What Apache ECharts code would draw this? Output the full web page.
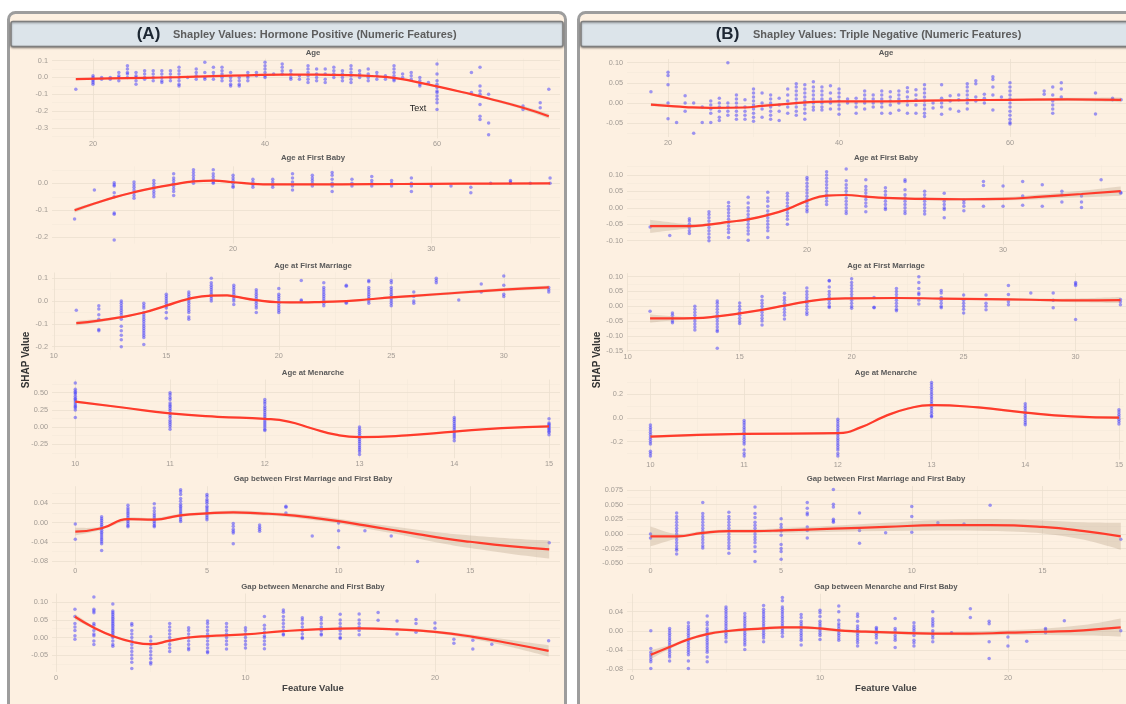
<!DOCTYPE html>
<html><head><meta charset="utf-8">
<script src="https://cdn.jsdelivr.net/npm/echarts@6/dist/echarts.min.js"></script>
<style>html,body{margin:0;padding:0;background:#fff}#c{width:1126px;height:704px}</style>
</head><body><div id="c"></div>
<script>
// ---------------- DATA ----------------
const facetTitles = ['Age','Age at First Baby','Age at First Marriage','Age at Menarche','Gap between First Marriage and First Baby','Gap between Menarche and First Baby'];
const headerA = 'Shapley Values: Hormone Positive (Numeric Features)';
const headerB = 'Shapley Values: Triple Negative (Numeric Features)';

// (A) Hormone Positive
const hpAgeCols = [18,20,21,22,23,24,25,26,27,28,29,30,31,32,33,34,35,36,37,38,39,40,41,42,43,44,45,46,47,48,49,50,51,52,53,54,55,56,57,58,59,60,64,65,66,70,72,73];
const hpAgeVals = [[-0.07],[0.01,0,-0.01,-0.02,-0.03,-0.04],[0,-0.01],[0,-0.01],[0.03,0.01,0,-0.02],[0.07,0.05,0.03,0.02,0],[0.03,0.01,0,-0.02,-0.04],[0.04,0.02,0,-0.01],[0.04,0.02,0,-0.02],[0.04,0.02,0,-0.02,-0.03],[0.04,0.02,0,-0.02],[0.06,0.04,0.02,0,-0.02,-0.04,-0.05],[0],[0.05,0.03,0.01,-0.01],[0.09,0.03,0,-0.01],[0.06,0.03,0.01,-0.01],[0.06,0.04,0.02,0,-0.02],[0.03,0,-0.02,-0.04,-0.05],[0,-0.02,-0.04,-0.05],[0.03,0.01,0,-0.02],[0.03,0.01],[0.09,0.07,0.05,0.03,0.01,0],[0.02],[0.08,0.06,0.04,0.02],[0.04,0.02,0,-0.01],[0.01,-0.01],[0.07,0.05,0.03,0.01,-0.01,-0.03],[0.05,0.02,0,-0.02],[0.05,0.02,-0.01,-0.03],[0.06,0.04,0.02,0],[0.04,0.02,0,-0.02],[0.07,0.05,0.03,0.01,-0.01,-0.03],[0.04,0.02,0],[0.05,0.02,0,-0.02],[0.03,0.01,-0.01],[0.01,-0.01],[0.07,0.05,0.03,0.01,-0.01,-0.02],[0.02,0],[0.03,0.01,-0.01],[0,-0.02,-0.04,-0.05],[-0.03],[0.08,0.02,-0.02,-0.04,-0.06,-0.08,-0.09,-0.11,-0.13,-0.15,-0.19],[0.03,-0.09],[0.06,-0.05,-0.08,-0.1,-0.16,-0.23,-0.25],[-0.1,-0.27,-0.34],[-0.17,-0.19],[-0.15,-0.18],[-0.07]];
const hpAgeCurveX = [18,22,26,30,34,38,42,46,50,53,55,57,60,63,66,70,73];
const hpAgeCurveY = [-0.01,-0.006,-0.002,0.002,0.008,0.013,0.017,0.017,0.014,0.007,-0.002,-0.02,-0.053,-0.088,-0.125,-0.18,-0.23];
const hpAgeSE = [0.006,0.003,0.003,0.002,0.002,0.002,0.002,0.002,0.002,0.002,0.003,0.003,0.004,0.006,0.008,0.011,0.015];
const hpAgeXTicks = [20,40,60];
const hpAgeYTicks = [0.1,0,-0.1,-0.2,-0.3];

const hpBabyCols = [12,13,14,15,16,17,18,19,20,21,22,23,24,25,26,27,28,29,30,31,32,33,34,35,36];
const hpBabyVals = [[-0.132],[-0.025],[0.002,-0.005,-0.01,-0.035,-0.05,-0.11,-0.115,-0.21],[0.005,-0.005,-0.015,-0.025,-0.035,-0.045,-0.055],[0.01,0,-0.01,-0.02,-0.03,-0.04,-0.05],[0.035,0.02,0.01,0,-0.01,-0.02,-0.03,-0.045],[0.05,0.04,0.03,0.02,0.01,0],[0.05,0.035,0.025,0.015,0.005,0],[0.03,0.02,0.01,0,-0.01,-0.015],[0.015,0.005,-0.005,-0.015],[0.015,0.005,-0.005,-0.015],[0.035,0.02,0.005,-0.01,-0.025],[0.03,0.02,0.01,0,-0.01],[0.04,0.03,0.015,0,-0.01,-0.03],[0.015,0,-0.01],[0.025,0.01,0,-0.01],[0.01,0,-0.01],[0.02,0,-0.01,-0.03],[-0.01],[-0.01],[-0.015,-0.035],[0],[0.01,0.005,0],[0],[0.02,0]];
const hpBabyCurveX = [12,13,14,15,16,17,18,19,20,21,22,24,27,30,33,36];
const hpBabyCurveY = [-0.1,-0.075,-0.052,-0.033,-0.017,-0.004,0.007,0.01,0.004,-0.002,-0.004,-0.004,-0.003,-0.002,-0.001,0.0];
const hpBabySE = [0.008,0.005,0.004,0.003,0.003,0.003,0.003,0.003,0.003,0.003,0.003,0.003,0.003,0.003,0.003,0.004];
const hpBabyXTicks = [20,30];
const hpBabyYTicks = [0,-0.1,-0.2];

const hpMarrCols = [11,12,13,14,15,16,17,18,19,20,21,22,23,24,25,26,27,28,29,30,32];
const hpMarrVals = [[-0.04],[-0.02,-0.035,-0.06,-0.08,-0.125,-0.13],[0,-0.01,-0.02,-0.03,-0.04,-0.05,-0.06,-0.08,-0.11,-0.13,-0.15,-0.17,-0.2],[-0.01,-0.02,-0.03,-0.05,-0.06,-0.07,-0.08,-0.09,-0.1,-0.11,-0.12,-0.13,-0.14,-0.15,-0.16,-0.19],[0.03,0.02,0.01,0,-0.01,-0.02,-0.03,-0.05,-0.075],[0.04,0.03,0.02,0.01,0,-0.01,-0.02,-0.03,-0.04,-0.05,-0.07,-0.08],[0.1,0.08,0.07,0.06,0.05,0.04,0.03,0.02,0.01,0],[0.07,0.06,0.05,0.04,0.03,0.02,0.01,0,-0.015],[0.05,0.04,0.03,0.02,0.01,0,-0.01,-0.02,-0.03,-0.05],[0.055,0.03,0.02,0.01,0,-0.01,-0.02,-0.03,-0.04,-0.05],[0.09,0.005,0],[0.08,0.06,0.05,0.04,0.03,0.02,0.01,0,-0.01,-0.02],[0.07,0.065,-0.005,-0.01],[0.09,0.085,0.06,0.05,0.04,0.03,0.02,0.01,0,-0.01],[0.09,0.08,0.06,0.05,0.04,0.03,0.02,0.01,0,-0.01,-0.02],[0.04,0.02,0,-0.01],[0.1,0.09,0.08],[0.005],[0.075,0.04],[0.11,0.07,0.03,0.02],[0.06,0.05,0.04]];
const hpMarrCurveX = [11,12,13,14,15,16,17,17.7,18,19,20,21,22,23,24,25,27,30,32];
const hpMarrCurveY = [-0.097,-0.086,-0.07,-0.05,-0.02,0.01,0.024,0.025,0.021,0.004,-0.005,-0.006,-0.003,0.0,0.008,0.016,0.03,0.05,0.06];
const hpMarrSE = [0.01,0.007,0.005,0.004,0.004,0.004,0.004,0.004,0.004,0.004,0.004,0.004,0.004,0.004,0.004,0.005,0.006,0.007,0.008];
const hpMarrXTicks = [10,15,20,25,30];
const hpMarrYTicks = [0.1,0,-0.1,-0.2];

const hpMenCols = [10,11,12,13,14,15];
const hpMenVals = [[0.64,0.55,0.52,0.5,0.48,0.45,0.42,0.4,0.38,0.35,0.32,0.3,0.28,0.25,0.14],[0.5,0.47,0.43,0.4,0.35,0.32,0.3,0.27,0.24,0.2,0.17,0.14,0.1,0.07,0.04,0.01,-0.03],[0.4,0.37,0.34,0.3,0.27,0.24,0.21,0.18,0.15,0.12,0.09,0.06,0.03,0,-0.03,-0.05],[0,-0.03,-0.06,-0.09,-0.12,-0.15,-0.18,-0.21,-0.24,-0.27,-0.3,-0.33,-0.36,-0.4],[0.14,0.11,0.08,0.05,0.02,-0.01,-0.04,-0.07,-0.1,-0.13,-0.16,-0.2],[0.12,0.06,0.04,0.02,0,-0.02,-0.04,-0.06,-0.08,-0.11]];
const hpMenCurveX = [10,10.5,11,11.5,12,12.25,12.5,12.75,13,13.5,14,14.5,15];
const hpMenCurveY = [0.37,0.285,0.2,0.15,0.12,0.08,-0.02,-0.11,-0.145,-0.12,-0.065,-0.015,0.01];
const hpMenSE = [0.015,0.01,0.01,0.01,0.01,0.01,0.01,0.01,0.01,0.01,0.01,0.01,0.015];
const hpMenXTicks = [10,11,12,13,14,15];
const hpMenYTicks = [0.5,0.25,0,-0.25];

const hpGapMCols = [0,1,2,3,4,5,6,7,8,9,10,11,12,13,18];
const hpGapMVals = [[-0.003,-0.035],[0.012,0.008,0.004,0,-0.004,-0.008,-0.012,-0.016,-0.02,-0.024,-0.028,-0.032,-0.036,-0.04,-0.044,-0.058],[0.036,0.03,0.026,0.022,0.018,0.014,0.01,0.006,0.002,-0.002,-0.006,-0.009],[0.039,0.03,0.024,0.018,0.014,0.01,0.006,0.002,-0.002,-0.006,-0.009],[0.068,0.064,0.058,0.05,0.044,0.038,0.034,0.03,0.026,0.022,0.018,0.014,0.01,0.006,0.002],[0.058,0.054,0.048,0.044,0.04,0.034,0.03,0.026,0.022,0.018,0.014,0.01,0.006],[-0.002,-0.008,-0.014,-0.018,-0.022,-0.044],[-0.005,-0.01,-0.014,-0.018],[0.034,0.032,0.02],[-0.028],[-0.001,-0.017,-0.052],[-0.017],[-0.028],[-0.081],[-0.042]];
const hpGapMCurveX = [0,1,2,3,4,5,6,7,8,9,10,11,12,13,14,15,16.5,18];
const hpGapMCurveY = [-0.019,-0.012,0.007,0.006,0.015,0.019,0.021,0.019,0.016,0.01,0.003,-0.006,-0.015,-0.024,-0.033,-0.04,-0.049,-0.056];
const hpGapMSE = [0.008,0.003,0.003,0.003,0.003,0.003,0.004,0.004,0.004,0.005,0.005,0.006,0.007,0.009,0.011,0.013,0.016,0.019];
const hpGapMXTicks = [0,5,10,15];
const hpGapMYTicks = [0.04,0,-0.04,-0.08];

const hpGapBCols = [1,2,3,4,5,6,7,8,9,10,11,12,13,14,15,16,17,18,19,20,21,22,23,26];
const hpGapBVals = [[0.08,0.06,0.04,0.03,0.02,0.005,-0.005],[0.115,0.08,0.075,0.07,0.04,0.035,0.02,0.01,0.005,-0.01,-0.02],[0.095,0.075,0.07,0.065,0.06,0.055,0.05,0.045,0.04,0.035,0.03,0.025,0.02,0.015,0.01,0.005,0,-0.01,-0.02,-0.025],[0.04,0.035,0.02,0.01,0,-0.01,-0.02,-0.03,-0.04,-0.05,-0.06,-0.07,-0.088],[0.002,-0.01,-0.02,-0.03,-0.04,-0.05,-0.06,-0.07,-0.075],[0.04,0.03,0.02,0.01,0,-0.01,-0.02,-0.03,-0.04],[0.028,0.02,0.01,0,-0.01,-0.02,-0.03,-0.035],[0.047,0.04,0.03,0.02,0.01,0,-0.01,-0.02,-0.03,-0.04,-0.043],[0.04,0.03,0.02,0.01,0,-0.01,-0.02,-0.033],[0.028,0.02,0.01,0,-0.01,-0.02,-0.03],[0.06,0.035,0.025,0.015,0.005,0,-0.01,-0.02,-0.032],[0.078,0.072,0.06,0.05,0.04,0.03,0.02,0.01,0.007],[0.056,0.05,0.04,0.03,0.02,0.01,0,-0.003],[0.057,0.05,0.04,0.03,0.02,0.01,0.007],[0.066,0.05,0.04,0.03,0.02,0.01,0,-0.003],[0.067,0.05,0.04,0.03,0.02,0.008],[0.071,0.049],[0.047,0.01],[0.051,0.04,0.015],[0.041,0.026],[-0.005,-0.016],[-0.008,-0.033],[-0.019],[-0.009]];
const hpGapBCurveX = [1,2,3,4,5,6,7,8,10,12,14,16,18,20,22,24,26];
const hpGapBCurveY = [0.059,0.028,0.004,-0.012,-0.019,-0.009,0.0,0.004,0.009,0.018,0.024,0.026,0.023,0.016,0.002,-0.017,-0.038];
const hpGapBSE = [0.008,0.004,0.003,0.003,0.003,0.003,0.003,0.002,0.002,0.002,0.002,0.003,0.003,0.004,0.006,0.01,0.016];
const hpGapBXTicks = [0,10,20];
const hpGapBYTicks = [0.1,0.05,0,-0.05];

// (B) Triple Negative
const tnAgeCols = [18,20,21,22,23,24,25,26,27,28,29,30,31,32,33,34,35,36,37,38,39,40,41,42,43,44,45,46,47,48,49,50,51,52,53,54,55,56,57,58,59,60,64,65,66,70,72,73];
const tnAgeVals = [[0.028],[0.076,0.068,0.045,0,-0.039],[-0.048],[0.018,0,-0.02],[0,-0.075],[-0.01,-0.048],[0.005,-0.005,-0.015,-0.025,-0.048],[0.012,0,-0.01,-0.02,-0.035,-0.043],[0.1,0,-0.01,-0.02,-0.03],[0.02,0.01,0,-0.01,-0.02,-0.03,-0.04],[0.008,-0.01,-0.02,-0.03,-0.04],[0.035,0.025,0.015,0.005,-0.005,-0.015,-0.025,-0.035,-0.045],[0.025,0,-0.015,-0.035],[0.02,0.01,0,-0.01,-0.02,-0.03,-0.04],[0.012,-0.005,-0.02,-0.043],[0.035,0.02,0.005,-0.01,-0.025],[0.048,0.04,0.03,0.02,0.01,0,-0.01,-0.02,-0.03],[0.045,0.035,0.025,0.015,0.005,-0.005,-0.015,-0.025,-0.04],[0.053,0.04,0.03,0.02,0.01,0,-0.01,-0.017],[0.04,0.03,0.02,0.01,0,-0.01,-0.017],[0.043,0.025,0.01,0,-0.015],[0.035,0.025,0.015,0.005,-0.005,-0.015,-0.028],[0.01,0],[0.012,0,-0.01,-0.025],[0.03,0.02,0.01,0,-0.015],[0.02,0.01,0,-0.01],[0.03,0.02,0.01,0,-0.01,-0.025],[0.028,0.015,0.005,-0.005,-0.025],[0.03,0.02,0.01,0,-0.018],[0.038,0.028,0.015,0.005,-0.005,-0.025],[0.033,0.02,0.008,-0.005,-0.025],[0.045,0.035,0.025,0.015,0.005,-0.005,-0.015,-0.025,-0.033],[0,-0.012],[0.045,0.012,0,-0.01,-0.028],[0.018,0.005,-0.015],[0.02,0.008,-0.02],[0.048,0.04,0.03,0.02,0.01,0,-0.015],[0.055,0.048,0.015,0.005],[0.022,0.012,0],[0.065,0.058,0.04,0.02,-0.017],[0.015],[0.05,0.04,0.03,0.02,0.01,0,-0.01,-0.02,-0.03,-0.04,-0.048,-0.052],[0.03,0.022],[0.04,0.02,0.005,-0.005,-0.015,-0.025],[0.05,0.035,0.015],[0.025,-0.027],[0.012,0.008],[0.008]];
const tnAgeCurveX = [18,20,22,25,29,31,34,37,40,45,50,55,60,66.7,73];
const tnAgeCurveY = [-0.004,-0.007,-0.01,-0.012,-0.011,-0.007,-0.002,0.003,0.004,0.004,0.006,0.007,0.008,0.009,0.008];
const tnAgeSE = [0.004,0.003,0.002,0.002,0.002,0.002,0.002,0.002,0.002,0.002,0.002,0.002,0.002,0.004,0.006];
const tnAgeXTicks = [20,40,60];
const tnAgeYTicks = [0.1,0.05,0,-0.05];

const tnBabyCols = [12,13,14,15,16,17,18,19,20,21,22,23,24,25,26,27,28,29,30,31,32,33,34,35,36];
const tnBabyVals = [[-0.058],[-0.084],[-0.033,-0.04,-0.05,-0.06,-0.07,-0.078],[-0.012,-0.02,-0.03,-0.04,-0.05,-0.06,-0.07,-0.08,-0.09,-0.1],[0.016,0.005,-0.005,-0.015,-0.025,-0.035,-0.045,-0.055,-0.065,-0.075,-0.09],[0.032,0.015,0,-0.01,-0.02,-0.03,-0.04,-0.05,-0.06,-0.07,-0.08,-0.099],[0.047,0.03,0.02,0.005,-0.01,-0.02,-0.03,-0.04,-0.05,-0.06,-0.07,-0.09],[0.044,0.035,0.025,0.015,0.005,-0.005,-0.015,-0.025,-0.035,-0.05],[0.092,0.085,0.075,0.065,0.055,0.045,0.035,0.025,0.015,0.005,-0.005,-0.012],[0.11,0.1,0.09,0.08,0.07,0.06,0.05,0.04,0.03,0.02,0.01],[0.118,0.082,0.07,0.06,0.05,0.04,0.03,0.02,0.01,0,-0.01,-0.017],[0.085,0.065,0.055,0.045,0.035,0.025,0.015,0.005,-0.012],[0.061,0.05,0.04,0.03,0.02,0.01,0,-0.005],[0.085,0.08,0.055,0.04,0.03,0.02,0.01,0,-0.01,-0.017],[0.05,0.04,0.03,0.02,0.01,0,-0.01,-0.019],[0.044,0.02,0.01,0,-0.005,-0.03],[0.023,0.015,0.005,-0.009],[0.08,0.068,0.005],[0.066,0.005],[0.08,0.036,0.008],[0.07,0.005],[0.05,0.04,0.018],[0.036,0.018,0.001],[0.085],[0.047,0.044]];
const tnBabyCurveX = [12,14,15,16,17,18,19,20,21,22,23,24,26,28,30,32,34,36];
const tnBabyCurveY = [-0.056,-0.056,-0.051,-0.043,-0.035,-0.022,-0.004,0.021,0.037,0.039,0.034,0.03,0.027,0.026,0.027,0.034,0.042,0.051];
const tnBabySE = [0.02,0.006,0.004,0.003,0.003,0.003,0.003,0.003,0.003,0.003,0.003,0.003,0.004,0.004,0.005,0.007,0.01,0.014];
const tnBabyXTicks = [20,30];
const tnBabyYTicks = [0.1,0.05,0,-0.05,-0.1];

const tnMarrCols = [11,12,13,14,15,16,17,18,19,20,21,22,23,24,25,26,27,28,29,30,32];
const tnMarrVals = [[-0.017],[-0.023,-0.03,-0.04,-0.05,-0.056],[0,-0.01,-0.02,-0.03,-0.04,-0.05,-0.06,-0.07,-0.08],[0.018,0.01,0,-0.01,-0.02,-0.03,-0.04,-0.05,-0.06,-0.07,-0.08,-0.085,-0.142],[0.011,0,-0.01,-0.02,-0.03,-0.04,-0.05,-0.058],[0.033,0.02,0.01,0,-0.01,-0.02,-0.03,-0.04,-0.05,-0.063],[0.044,0.03,0.02,0.01,0,-0.01,-0.02,-0.03,-0.043],[0.062,0.05,0.04,0.03,0.02,0.01,0,-0.01,-0.02,-0.028],[0.087,0.085,0.065,0.05,0.04,0.03,0.02,0.01,0,-0.004],[0.093,0.08,0.07,0.06,0.05,0.04,0.03,0.02,0.01,0,-0.007],[0.03,-0.003,-0.005],[0.06,0.05,0.04,0.03,0.02,0.01,0,-0.01,-0.015],[0.1,0.08,0.06,0.045,0.04,0.02,0.008],[0.053,0.045,0.03,0.02,0.01,0,-0.005],[0.038,0.02,0.01,0,-0.01,-0.023],[0.038,0.01,0,-0.012],[0.07,0.04,0.015,0.005],[0.045],[0.045,0.02,-0.005],[0.08,0.075,0.07,-0.045],[0.023,0.015,0.005]];
const tnMarrCurveX = [11,12,13,14,15,16,17,18,19,20,22,24,26,28,30,32];
const tnMarrCurveY = [-0.041,-0.041,-0.04,-0.034,-0.024,-0.012,0.002,0.016,0.025,0.027,0.028,0.026,0.024,0.022,0.02,0.021];
const tnMarrSE = [0.014,0.007,0.004,0.003,0.003,0.003,0.003,0.003,0.003,0.003,0.003,0.003,0.004,0.004,0.006,0.01];
const tnMarrXTicks = [10,15,20,25,30];
const tnMarrYTicks = [0.1,0.05,0,-0.05,-0.1,-0.15];

const tnMenCols = [10,11,12,13,14,15];
const tnMenVals = [[-0.06,-0.08,-0.1,-0.12,-0.14,-0.16,-0.18,-0.2,-0.22,-0.28,-0.3,-0.32],[-0.02,-0.04,-0.06,-0.08,-0.1,-0.12,-0.14,-0.16,-0.18,-0.2,-0.22,-0.27,-0.3,-0.32],[-0.01,-0.03,-0.05,-0.07,-0.09,-0.11,-0.13,-0.15,-0.17,-0.19,-0.21,-0.23,-0.25,-0.27,-0.3,-0.32],[0.3,0.28,0.26,0.24,0.22,0.2,0.18,0.16,0.14,0.12,0.1,0.08,0.06,0.04,0.02,0.01],[0.12,0.1,0.08,0.06,0.04,0.02,0,-0.02,-0.04,-0.057],[0.07,0.05,0.03,0.01,-0.01,-0.03,-0.05]];
const tnMenCurveX = [10,11,12,12.25,12.5,12.75,13,13.5,14,14.5,15];
const tnMenCurveY = [-0.157,-0.134,-0.128,-0.077,0.014,0.08,0.109,0.089,0.046,0.014,0.003];
const tnMenSE = [0.012,0.008,0.008,0.008,0.008,0.008,0.008,0.008,0.008,0.008,0.012];
const tnMenXTicks = [10,11,12,13,14,15];
const tnMenYTicks = [0.2,0,-0.2];

const tnGapMCols = [0,1,2,3,4,5,6,7,8,9,10,11,12,13,18];
const tnGapMVals = [[0,-0.007],[0.036,0.03,0.025,0.02,0.015,0.01,0.005,0,-0.005,-0.01,-0.015,-0.02,-0.025,-0.028,-0.034],[0.054,0.035,0.03,0.025,0.02,0.015,0.01,0.005,0,-0.005,-0.01,-0.015,-0.02,-0.024],[0.037,0.03,0.025,0.02,0.015,0.01,0.005,0,-0.005,-0.01,-0.015,-0.02,-0.025,-0.033],[0.046,0.035,0.028,0.02,0.015,0.01,0.005,0,-0.005,-0.01,-0.015,-0.022,-0.03,-0.047],[0.026,0.016,0.011,0.005,-0.002,-0.018,-0.025,-0.03,-0.043],[0.054,0.044,0.036,0.033,0.012,0.006,-0.007],[0.076,0.051,0.046,0.025,0.022,0.02],[0.036,0.006,-0.016],[0.002],[0.047,0.03,0.003],[0.019],[0.017],[0.049],[-0.009]];
const tnGapMCurveX = [0,1,2,3,4,5,7,9,11,13,15,16.6,18];
const tnGapMCurveY = [-0.004,-0.004,0.002,0.005,0.005,0.006,0.009,0.012,0.015,0.015,0.012,0.005,-0.004];
const tnGapMSE = [0.017,0.004,0.003,0.003,0.003,0.004,0.005,0.007,0.009,0.01,0.011,0.015,0.023];
const tnGapMXTicks = [0,5,10,15];
const tnGapMYTicks = [0.075,0.05,0.025,0,-0.025,-0.05];

const tnGapBCols = [1,2,3,4,5,6,7,8,9,10,11,12,13,14,15,16,17,18,19,20,21,22,23,26];
const tnGapBVals = [[0,-0.037,-0.045,-0.05,-0.055,-0.06,-0.065,-0.079],[0.005,0,-0.005,-0.01,-0.015,-0.02,-0.025,-0.03,-0.035,-0.04,-0.045,-0.05,-0.055,-0.063],[0.017,0.01,0.005,0,-0.005,-0.01,-0.015,-0.02,-0.025,-0.03,-0.035,-0.04,-0.045,-0.05,-0.063,-0.079],[0.031,0.018,0.012,0.005,0,-0.005,-0.01,-0.015,-0.02,-0.025,-0.03,-0.035,-0.04,-0.045,-0.055,-0.065],[0.05,0.045,0.04,0.035,0.03,0.025,0.02,0.015,0.01,0.005,0,-0.005,-0.01,-0.015,-0.023],[0.036,0.03,0.025,0.02,0.015,0.01,0.005,0,-0.005,-0.01,-0.015,-0.02,-0.025,-0.03,-0.039],[0.053,0.045,0.04,0.035,0.03,0.025,0.02,0.015,0.01,0.005,0,-0.005,-0.01,-0.015,-0.023],[0.07,0.063,0.05,0.045,0.04,0.035,0.03,0.025,0.02,0.015,0.01,0.005,0,-0.005,-0.012],[0.034,0.028,0.02,0.015,0.01,0.005,0,-0.005,-0.01,-0.015,-0.02,-0.03],[0.043,0.038,0.03,0.02,0.015,0.01,0.005,0,-0.005,-0.01,-0.018],[0.052,0.04,0.022,0.015,0.01,0.005,0,-0.005,-0.01,-0.015,-0.02],[0.035,0.03,0.02,0.01,0.005,0,-0.005,-0.01,-0.015,-0.02,-0.025,-0.032],[0.007,0.004,0,-0.005,-0.01,-0.015,-0.025],[0.026,0.005,0,-0.01,-0.015,-0.02,-0.035],[0.017,0.01,0.005,0,-0.01,-0.02,-0.025,-0.032],[0.04,0.025,0.02,0.015,0.01,0,-0.005,-0.01,-0.015,-0.023],[-0.004],[0.046,0.028],[0.02,0.015,-0.023,-0.058],[-0.013,-0.032],[-0.022],[0.005,0.002,-0.004],[0.021],[0]];
const tnGapBCurveX = [1,2,3,4,5,7,8,9,10,11,12,14,16,18,20,22,24,26];
const tnGapBCurveY = [-0.05,-0.034,-0.018,-0.007,-0.001,0.005,0.007,0.007,0.005,0.001,-0.001,-0.004,-0.006,-0.006,-0.004,-0.002,0.001,0.007];
const tnGapBSE = [0.009,0.004,0.003,0.003,0.003,0.003,0.003,0.003,0.003,0.003,0.003,0.003,0.003,0.004,0.005,0.007,0.011,0.019];
const tnGapBXTicks = [0,10,20];
const tnGapBYTicks = [0.04,0,-0.04,-0.08];

// ---------------- ASSEMBLY ----------------
const panels = [
  [hpAgeCols,hpAgeVals,hpAgeCurveX,hpAgeCurveY,hpAgeSE,hpAgeXTicks,hpAgeYTicks],
  [hpBabyCols,hpBabyVals,hpBabyCurveX,hpBabyCurveY,hpBabySE,hpBabyXTicks,hpBabyYTicks],
  [hpMarrCols,hpMarrVals,hpMarrCurveX,hpMarrCurveY,hpMarrSE,hpMarrXTicks,hpMarrYTicks],
  [hpMenCols,hpMenVals,hpMenCurveX,hpMenCurveY,hpMenSE,hpMenXTicks,hpMenYTicks],
  [hpGapMCols,hpGapMVals,hpGapMCurveX,hpGapMCurveY,hpGapMSE,hpGapMXTicks,hpGapMYTicks],
  [hpGapBCols,hpGapBVals,hpGapBCurveX,hpGapBCurveY,hpGapBSE,hpGapBXTicks,hpGapBYTicks],
  [tnAgeCols,tnAgeVals,tnAgeCurveX,tnAgeCurveY,tnAgeSE,tnAgeXTicks,tnAgeYTicks],
  [tnBabyCols,tnBabyVals,tnBabyCurveX,tnBabyCurveY,tnBabySE,tnBabyXTicks,tnBabyYTicks],
  [tnMarrCols,tnMarrVals,tnMarrCurveX,tnMarrCurveY,tnMarrSE,tnMarrXTicks,tnMarrYTicks],
  [tnMenCols,tnMenVals,tnMenCurveX,tnMenCurveY,tnMenSE,tnMenXTicks,tnMenYTicks],
  [tnGapMCols,tnGapMVals,tnGapMCurveX,tnGapMCurveY,tnGapMSE,tnGapMXTicks,tnGapMYTicks],
  [tnGapBCols,tnGapBVals,tnGapBCurveX,tnGapBCurveY,tnGapBSE,tnGapBXTicks,tnGapBYTicks]
];
// layout: grid box in px + axis ranges + y label decimals
const layout = [
  {l:52,w:508,t:58.7,h:79.6,x0:15.23,x1:74.3,y0:-0.3615,y1:0.1115,d:1},
  {l:52,w:508,t:166.3,h:77.2,x0:10.86,x1:36.5,y0:-0.223,y1:0.063,d:1},
  {l:52,w:508,t:272.5,h:77.7,x0:9.92,x1:32.5,y0:-0.2155,y1:0.1255,d:1},
  {l:52,w:508,t:379.5,h:78.7,x0:9.754,x1:15.116,y0:-0.452,y1:0.692,d:2},
  {l:52,w:508,t:486.2,h:78.9,x0:-0.885,x1:18.41,y0:-0.0885,y1:0.0755,d:2},
  {l:52,w:508,t:593.5,h:78.5,x0:-0.211,x1:26.6,y0:-0.098,y1:0.125,d:2},
  {l:627,w:499,t:59,h:78,x0:15.2,x1:73.57,y0:-0.084,y1:0.109,d:2},
  {l:627,w:499,t:165.4,h:78.9,x0:10.82,x1:36.27,y0:-0.111,y1:0.129,d:2},
  {l:627,w:499,t:273.1,h:78.8,x0:9.97,x1:32.25,y0:-0.154,y1:0.112,d:2},
  {l:627,w:499,t:378.8,h:80.8,x0:9.75,x1:15.049,y0:-0.351,y1:0.331,d:1},
  {l:627,w:499,t:486,h:79,x0:-0.9,x1:18.2,y0:-0.053,y1:0.082,d:3},
  {l:627,w:499,t:593.8,h:78.3,x0:-0.266,x1:26.28,y0:-0.0865,y1:0.0775,d:2}
];
const titleY = [53,158,266,372.7,479.3,586.7];
const colCenter = [313,886];

const MAJOR = '#ebdfcf', MINOR = '#f5e9da', LABEL = '#a29b94';
function minorsOf(majors, lo, hi){
  const s = majors.slice().sort((a,b)=>a-b);
  const d = s.length > 1 ? s[1]-s[0] : 1;
  const out = [];
  for (let k = -1; k <= s.length; k++) {
    const m = (k < 0 ? s[0]-d : (k >= s.length ? s[s.length-1]+d : s[k])) + d/2;
    const v = Math.round(m*100000)/100000;
    if (v > lo && v < hi) out.push(v);
  }
  return out;
}
function extMajors(majors, lo, hi){
  const s = majors.slice().sort((a,b)=>a-b);
  const d = s.length > 1 ? s[1]-s[0] : 1;
  const out = s.slice();
  let v = s[0]-d; while (v > lo) { out.push(Math.round(v*100000)/100000); v -= d; }
  v = s[s.length-1]+d; while (v < hi) { out.push(Math.round(v*100000)/100000); v += d; }
  return out;
}
// SVG path through pixel points (cardinal spline), used for the band outline
function splineSeg(p, start){
  let d = start ? 'M' + p[0][0] + ' ' + p[0][1] : 'L' + p[0][0] + ' ' + p[0][1];
  for (let i = 0; i < p.length - 1; i++) {
    const p0 = p[i-1] || p[i], p1 = p[i], p2 = p[i+1], p3 = p[i+2] || p[i+1];
    const c1 = [p1[0] + (p2[0]-p0[0])/6, p1[1] + (p2[1]-p0[1])/6];
    const c2 = [p2[0] - (p3[0]-p1[0])/6, p2[1] - (p3[1]-p1[1])/6];
    d += 'C' + c1[0] + ' ' + c1[1] + ' ' + c2[0] + ' ' + c2[1] + ' ' + p2[0] + ' ' + p2[1];
  }
  return d;
}

const grids=[], xAxes=[], yAxes=[], series=[];
panels.forEach((p,i)=>{
  const [cols,vals,cx,cy,se,xt,yt] = p;
  const L = layout[i];
  grids.push({left:L.l, top:L.t, width:L.w, height:L.h, containLabel:false});
  const xg = extMajors(xt, L.x0, L.x1), yg = extMajors(yt, L.y0, L.y1);
  xAxes.push({type:'value', gridIndex:i, min:L.x0, max:L.x1,
    axisLine:{show:false}, axisTick:{show:false, customValues:xg},
    axisLabel:{customValues:xt, color:LABEL, fontSize:7.3, margin:2, fontFamily:'Liberation Sans, Arial', formatter:v=>String(Math.round(v))},
    splitLine:{show:true, lineStyle:{color:MAJOR, width:0.8}}, z:1});
  xAxes.push({type:'value', gridIndex:i, min:L.x0, max:L.x1,
    axisLine:{show:false}, axisTick:{show:false, customValues:minorsOf(xt,L.x0,L.x1)},
    axisLabel:{show:false}, splitLine:{show:true, lineStyle:{color:MINOR, width:0.6}}, z:0});
  yAxes.push({type:'value', gridIndex:i, min:L.y0, max:L.y1,
    axisLine:{show:false}, axisTick:{show:false, customValues:yg},
    axisLabel:{customValues:yt, color:LABEL, fontSize:7.3, margin:4, fontFamily:'Liberation Sans, Arial', formatter:v=>(Math.abs(v)<1e-9?0:v).toFixed(L.d)},
    splitLine:{show:true, lineStyle:{color:MAJOR, width:0.8}}, z:1});
  yAxes.push({type:'value', gridIndex:i, min:L.y0, max:L.y1,
    axisLine:{show:false}, axisTick:{show:false, customValues:minorsOf(yt,L.y0,L.y1)},
    axisLabel:{show:false}, splitLine:{show:true, lineStyle:{color:MINOR, width:0.6}}, z:0});
  const pts = [];
  cols.forEach((x,k)=>vals[k].forEach(y=>pts.push([x,y])));
  series.push({type:'scatter', xAxisIndex:2*i, yAxisIndex:2*i, data:pts, symbolSize:3.5, silent:true,
    itemStyle:{color:'rgba(58,52,255,0.62)'}, z:2});
  // confidence band, positioned through the axes' coordinate system
  series.push({type:'custom', xAxisIndex:2*i, yAxisIndex:2*i, silent:true, z:3,
    data:[[cx[0], cy[0]]],
    renderItem:(params, api)=>{
      const up = cx.map((x,k)=>api.coord([x, cy[k]+se[k]]));
      const lo = cx.map((x,k)=>api.coord([x, cy[k]-se[k]])).reverse();
      const cs = params.coordSys;
      return {type:'group', children:[{type:'path', shape:{pathData: splineSeg(up,true) + splineSeg(lo,false) + 'Z'},
        style:{fill:'rgba(185,160,135,0.32)', stroke:null}}],
        clipPath:{type:'rect', shape:{x:cs.x, y:cs.y, width:cs.width, height:cs.height}}};
    }});
  series.push({type:'line', xAxisIndex:2*i, yAxisIndex:2*i, data:cx.map((x,k)=>[x, cy[k]]),
    smooth:0.5, symbol:'none', silent:true, lineStyle:{color:'#ff3b2b', width:2.2}, z:4});
});

const graphics = [
  {type:'rect', z:-10, shape:{x:8.5,y:12.5,width:557,height:720,r:7}, style:{fill:'#fdf0e1', stroke:'#9d9d9d', lineWidth:3}},
  {type:'rect', z:-10, shape:{x:578.5,y:12.5,width:600,height:720,r:7}, style:{fill:'#fdf0e1', stroke:'#9d9d9d', lineWidth:3}},
  {type:'rect', z:-9, shape:{x:11,y:21.5,width:552,height:25,r:2}, style:{fill:'#dce4ea', stroke:'#7e7e7e', lineWidth:1.5, shadowBlur:2, shadowColor:'rgba(0,0,0,0.35)', shadowOffsetY:1}},
  {type:'rect', z:-9, shape:{x:581,y:21.5,width:560,height:25,r:2}, style:{fill:'#dce4ea', stroke:'#7e7e7e', lineWidth:1.5, shadowBlur:2, shadowColor:'rgba(0,0,0,0.35)', shadowOffsetY:1}},
  {type:'text', z:10, style:{text:'(A)', x:148.5, y:34, align:'center', verticalAlign:'middle', font:'bold 17px "Liberation Sans", Arial', fill:'#1d2733'}},
  {type:'text', z:10, style:{text:headerA, x:173, y:34.5, align:'left', verticalAlign:'middle', font:'bold 11px "Liberation Sans", Arial', fill:'#5d5d5d'}},
  {type:'text', z:10, style:{text:'(B)', x:727.5, y:34, align:'center', verticalAlign:'middle', font:'bold 17px "Liberation Sans", Arial', fill:'#1d2733'}},
  {type:'text', z:10, style:{text:headerB, x:753, y:34.5, align:'left', verticalAlign:'middle', font:'bold 11px "Liberation Sans", Arial', fill:'#5d5d5d'}},
  {type:'text', z:10, style:{text:'Feature Value', x:313, y:688, align:'center', verticalAlign:'middle', font:'bold 9.5px "Liberation Sans", Arial', fill:'#444'}},
  {type:'text', z:10, style:{text:'Feature Value', x:886, y:688, align:'center', verticalAlign:'middle', font:'bold 9.5px "Liberation Sans", Arial', fill:'#444'}},
  {type:'text', z:10, rotation:Math.PI/2, x:26, y:360, style:{text:'SHAP Value', x:0, y:0, align:'center', verticalAlign:'middle', font:'bold 10px "Liberation Sans", Arial', fill:'#333'}},
  {type:'text', z:10, rotation:Math.PI/2, x:597, y:360, style:{text:'SHAP Value', x:0, y:0, align:'center', verticalAlign:'middle', font:'bold 10px "Liberation Sans", Arial', fill:'#333'}},
  {type:'text', z:10, style:{text:'Text', x:418, y:109, align:'center', verticalAlign:'middle', font:'9px "Liberation Sans", Arial', fill:'#222'}}
];
[0,1].forEach(c=>facetTitles.forEach((t,r)=>graphics.push({type:'text', z:10,
  style:{text:t, x:colCenter[c], y:titleY[r], align:'center', verticalAlign:'middle', font:'bold 7.8px "Liberation Sans", Arial', fill:'#5a5a5a'}})));

const chart = echarts.init(document.getElementById('c'));
chart.setOption({animation:false, backgroundColor:'#ffffff', grid:grids, xAxis:xAxes, yAxis:yAxes, series:series, graphic:{elements:graphics}});
</script></body></html>
